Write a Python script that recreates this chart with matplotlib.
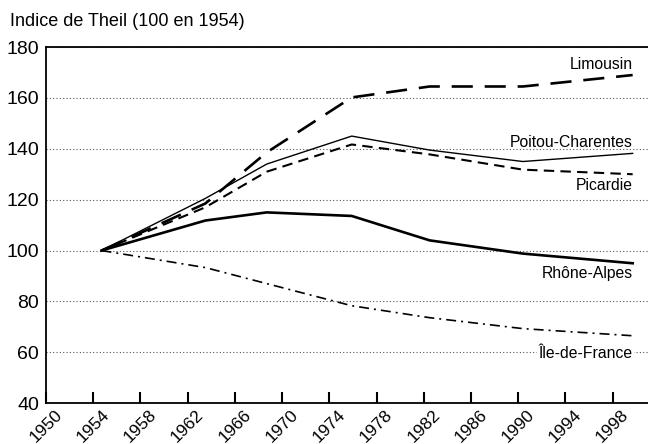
import matplotlib.pyplot as plt
from matplotlib.transforms import ScaledTranslation

plt.rcParams['font.family'] = ['Liberation Sans', 'DejaVu Sans']

# census dates (as plotted) and Theil index, 100 in 1954
years = [1954.7, 1963.5, 1968.7, 1975.9, 1982.5, 1990.4, 1999.7]
limousin = [100, 118.5, 138.6, 160.2, 164.5, 164.5, 169]
poitou = [100, 120.5, 134, 145, 139.5, 135, 138.2]
picardie = [100, 117, 131, 141.7, 137.8, 131.8, 130]
rhone = [100, 111.8, 115, 113.6, 104, 98.8, 95]
idf = [100, 93.3, 87, 78.3, 73.6, 69.3, 66.5]

xticks = list(range(1950, 2000, 4))
yticks = [40, 60, 80, 100, 120, 140, 160, 180]

fig = plt.figure(figsize=(6.48, 4.44), dpi=100)
ax = fig.add_axes([0.071, 0.092, 0.929, 0.802])

ax.plot(years, limousin, color='black', lw=1.9, dashes=(8, 4.5))
ax.plot(years, poitou, color='black', lw=1.0)
ax.plot(years, picardie, color='black', lw=1.5, dashes=(5, 3))
ax.plot(years, rhone, color='black', lw=1.9)
ax.plot(years, idf, color='black', lw=1.2, dashes=(6, 3, 1.2, 3))

lab = dict(ha='right', va='center', fontsize=11.3)
ax.text(1999.7, 173, 'Limousin', **lab)
ax.text(1999.7, 142.6, 'Poitou-Charentes', **lab)
ax.text(1999.7, 125.5, 'Picardie', **lab)
ax.text(1999.7, 90.8, 'Rhône-Alpes', **lab)
ax.text(1999.7, 59.7, 'Île-de-France', bbox=dict(facecolor='white', edgecolor='none', pad=1), **lab)

ax.set_xlim(1950, 2001)
ax.set_ylim(40, 180)
ax.set_xticks(xticks)
ax.set_xticklabels([str(y) for y in xticks], rotation=45, ha='right', rotation_mode='anchor', fontsize=12.5)
ax.set_yticks(yticks)
ax.set_yticklabels([str(v) for v in yticks], fontsize=14)
ax.tick_params(axis='x', direction='in', length=8, width=1.5, pad=3)
ax.tick_params(axis='y', length=0, pad=5)
shift = ScaledTranslation(6 / 72, 0, fig.dpi_scale_trans)
for t in ax.get_xticklabels():
    t.set_transform(t.get_transform() + shift)
ax.grid(axis='y', linestyle=(0, (1, 2)), color='#555555', lw=0.8)
for s in ['left', 'top', 'bottom']:
    ax.spines[s].set_linewidth(1.3)
ax.spines['right'].set_visible(False)

fig.text(0.015, 0.952, 'Indice de Theil (100 en 1954)', fontsize=13, va='center')

plt.savefig('out.png', dpi=100)
